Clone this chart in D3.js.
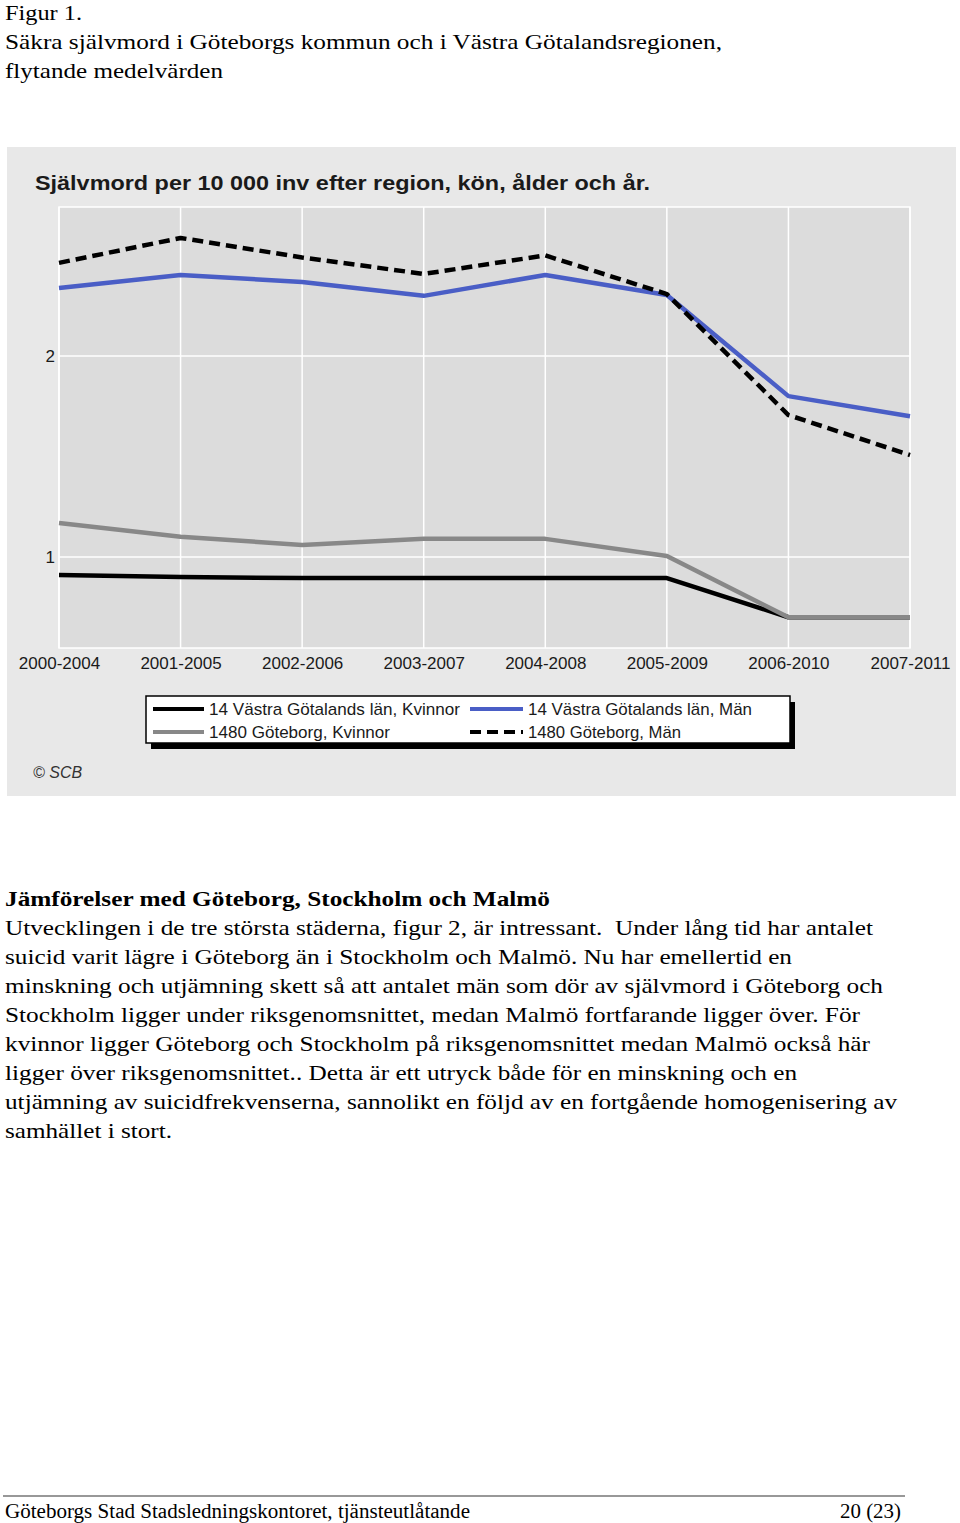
<!DOCTYPE html>
<html>
<head>
<meta charset="utf-8">
<script src="https://cdn.jsdelivr.net/npm/d3@7"></script>
<style>
html,body{margin:0;padding:0;background:#fff;}
svg{display:block;}
.serif{font-family:"Liberation Serif","Times New Roman",Times,serif;}
.sans{font-family:"Liberation Sans",Arial,Helvetica,sans-serif;}
</style>
</head>
<body>
<svg id="page" width="960" height="1523"></svg>
<script>
// ---- data ----
const categories = ["2000-2004","2001-2005","2002-2006","2003-2007","2004-2008","2005-2009","2006-2010","2007-2011"];
const vgKvinnor  = [0.91, 0.90, 0.895, 0.895, 0.895, 0.895, 0.70, 0.70];
const vgMan      = [2.338, 2.403, 2.368, 2.299, 2.403, 2.303, 1.80, 1.70];
const gbgKvinnor = [1.169, 1.10, 1.06, 1.09, 1.09, 1.005, 0.70, 0.70];
const gbgMan     = [2.463, 2.587, 2.49, 2.408, 2.50, 2.308, 1.706, 1.507];
const seriesNames = ["14 Västra Götalands län, Kvinnor","14 Västra Götalands län, Män","1480 Göteborg, Kvinnor","1480 Göteborg, Män"];
const yTicks = [1, 2];
const chartTitle = "Självmord per 10 000 inv efter region, kön, ålder och år.";
const headLines = ["Figur 1.","Säkra självmord i Göteborgs kommun och i Västra Götalandsregionen,","flytande medelvärden"];
const sectionHeading = "Jämförelser med Göteborg, Stockholm och Malmö";
const bodyLines = [
 "Utvecklingen i de tre största städerna, figur 2, är intressant.  Under lång tid har antalet",
 "suicid varit lägre i Göteborg än i Stockholm och Malmö. Nu har emellertid en",
 "minskning och utjämning skett så att antalet män som dör av självmord i Göteborg och",
 "Stockholm ligger under riksgenomsnittet, medan Malmö fortfarande ligger över. För",
 "kvinnor ligger Göteborg och Stockholm på riksgenomsnittet medan Malmö också här",
 "ligger över riksgenomsnittet.. Detta är ett utryck både för en minskning och en",
 "utjämning av suicidfrekvenserna, sannolikt en följd av en fortgående homogenisering av",
 "samhället i stort."
];
const footerLeft = "Göteborgs Stad Stadsledningskontoret, tjänsteutlåtande";
const footerRight = "20 (23)";

// ---- layout / style ----
const svg = d3.select("#page");

// page text
const headWidths = [77, 717, 218];
headLines.forEach((t,i)=>{
  svg.append("text").attr("class","serif").attr("x",5).attr("y",20+i*29)
    .attr("font-size",22).attr("fill","#000")
    .attr("textLength",headWidths[i]).attr("lengthAdjust","spacingAndGlyphs").text(t);
});
svg.append("text").attr("class","serif").attr("x",5).attr("y",906)
  .attr("font-size",22).attr("font-weight","bold")
  .attr("textLength",545).attr("lengthAdjust","spacingAndGlyphs").text(sectionHeading);
const bodyWidths = [868, 787, 878, 855, 865, 792, 892, 167];
bodyLines.forEach((t,i)=>{
  svg.append("text").attr("class","serif").attr("x",5).attr("y",935+i*29)
    .attr("font-size",22)
    .attr("textLength",bodyWidths[i]).attr("lengthAdjust","spacingAndGlyphs")
    .style("white-space","pre").text(t);
});
// footer
svg.append("line").attr("x1",3).attr("x2",905).attr("y1",1496).attr("y2",1496)
  .attr("stroke","#333").attr("stroke-width",1.2);
svg.append("text").attr("class","serif").attr("x",5).attr("y",1518).attr("font-size",20)
  .attr("textLength",465).attr("lengthAdjust","spacingAndGlyphs").text(footerLeft);
svg.append("text").attr("class","serif").attr("x",840).attr("y",1518).attr("font-size",20)
  .attr("textLength",61).attr("lengthAdjust","spacingAndGlyphs").text(footerRight);

// chart panel
svg.append("rect").attr("x",7).attr("y",147).attr("width",949).attr("height",649).attr("fill","#e8e8e8");
svg.append("text").attr("class","sans").attr("x",35).attr("y",190).attr("font-weight","bold")
  .attr("font-size",20).attr("fill","#1a1a1a").attr("textLength",615).attr("lengthAdjust","spacingAndGlyphs")
  .text(chartTitle);

const plot = {left:59, right:910, top:207, bottom:648};
const x = d3.scalePoint().domain(categories).range([plot.left, plot.right]);
const y = d3.scaleLinear().domain([0.547, 2.741]).range([plot.bottom, plot.top]);

svg.append("rect").attr("x",plot.left).attr("y",plot.top)
  .attr("width",plot.right-plot.left).attr("height",plot.bottom-plot.top)
  .attr("fill","#dcdcdc").attr("stroke","#fff").attr("stroke-width",1.5);

// grid
const g = svg.append("g");
g.selectAll("line.v").data(categories).enter().append("line")
  .attr("x1",d=>x(d)).attr("x2",d=>x(d)).attr("y1",plot.top).attr("y2",plot.bottom)
  .attr("stroke","#fff").attr("stroke-width",1.5);
g.selectAll("line.h").data(yTicks).enter().append("line")
  .attr("x1",plot.left).attr("x2",plot.right).attr("y1",d=>y(d)).attr("y2",d=>y(d))
  .attr("stroke","#fff").attr("stroke-width",1.5);

// axes
const xAxis = svg.append("g").attr("transform",`translate(0,${plot.bottom})`)
  .call(d3.axisBottom(x).tickSize(0).tickPadding(21));
xAxis.select(".domain").remove();
xAxis.selectAll("text").attr("class","sans").attr("font-family",null).attr("font-size",17).attr("fill","#1a1a1a").attr("dy","0");
const yAxis = svg.append("g").attr("transform",`translate(${plot.left},0)`)
  .call(d3.axisLeft(y).tickValues(yTicks).tickFormat(d3.format("d")).tickSize(0).tickPadding(4));
yAxis.select(".domain").remove();
yAxis.selectAll("text").attr("class","sans").attr("font-size",17).attr("fill","#1a1a1a");
xAxis.attr("font-family",null); yAxis.attr("font-family",null);

// lines
const series = [
  {name:seriesNames[0], values:vgKvinnor, color:"#000000", dash:null},
  {name:seriesNames[1], values:vgMan, color:"#4a5ec6", dash:null},
  {name:seriesNames[2], values:gbgKvinnor, color:"#888888", dash:null},
  {name:seriesNames[3], values:gbgMan, color:"#000000", dash:"11,6"}
];
const line = d3.line().x((d,i)=>x(categories[i])).y(d=>y(d));
series.forEach(s=>{
  svg.append("path").datum(s.values).attr("d",line)
    .attr("fill","none").attr("stroke",s.color).attr("stroke-width",4.5)
    .attr("stroke-linejoin","round")
    .attr("stroke-dasharray",s.dash);
});

// legend
svg.append("rect").attr("x",151).attr("y",702).attr("width",644).attr("height",47).attr("fill","#000");
svg.append("rect").attr("x",146).attr("y",696).attr("width",644).attr("height",47)
  .attr("fill","#fff").attr("stroke","#000").attr("stroke-width",1.5);
const legendPos = [
  {lx:153, tx:209, y:709, w:251},
  {lx:470, tx:528, y:709, w:224},
  {lx:153, tx:209, y:732, w:181},
  {lx:470, tx:528, y:732, w:153}
];
series.forEach((s,i)=>{
  const p = legendPos[i];
  svg.append("line").attr("x1",p.lx).attr("x2",p.tx-5).attr("y1",p.y).attr("y2",p.y)
    .attr("stroke",s.color).attr("stroke-width",4).attr("stroke-dasharray",s.dash);
  svg.append("text").attr("class","sans").attr("x",p.tx).attr("y",p.y+6).attr("font-size",17)
    .attr("fill","#1a1a1a").attr("textLength",p.w).attr("lengthAdjust","spacingAndGlyphs").text(s.name);
});

svg.append("text").attr("class","sans").attr("x",33).attr("y",778).attr("font-size",16)
  .attr("font-style","italic").attr("fill","#333").text("© SCB");
</script>
</body>
</html>
